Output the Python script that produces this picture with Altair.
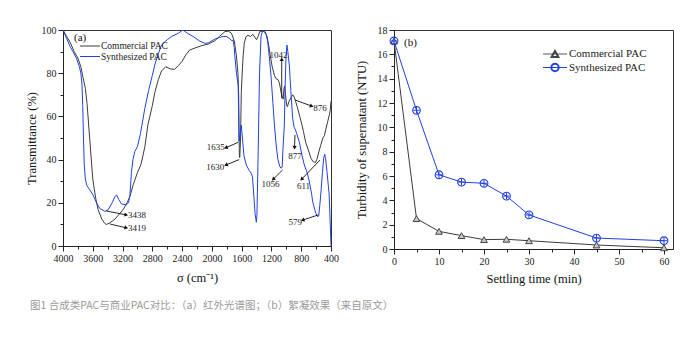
import math
import altair as alt
import pandas as pd

# ---------------- (a) FTIR spectra ----------------
com_sigma = [4000, 3950, 3900, 3850, 3800, 3760, 3731, 3700, 3677, 3640, 3600, 3560, 3530, 3480, 3440, 3419,
             3380, 3340, 3300, 3250, 3190, 3140, 3100, 3060, 3030, 3000, 2950, 2900, 2860, 2800, 2767, 2720,
             2677, 2620, 2560, 2500, 2450, 2400, 2350, 2300, 2200, 2140, 2050, 1960, 1900, 1826, 1780, 1737,
             1700, 1670, 1650, 1640, 1636, 1632, 1630, 1625, 1615, 1605, 1590, 1580, 1565, 1540, 1515, 1480,
             1450, 1420, 1400, 1380, 1358, 1320, 1290, 1260, 1240, 1220, 1190, 1160, 1140, 1110, 1090, 1070,
             1055, 1042, 1035, 1025, 1010, 995, 985, 965, 940, 915, 895, 876, 850, 820, 800, 770, 740, 700,
             669, 640, 624, 611, 590, 560, 535, 510, 490, 470, 445, 420, 410, 400]
com_T = [100, 97, 94, 90, 87, 83, 78, 73, 66, 49, 31, 22, 17, 12.5, 10.5, 10,
         10.5, 11.5, 12.5, 14.5, 17, 20, 23, 28, 31, 34, 38, 46, 56, 65, 71, 77,
         81, 83, 82, 81.8, 83.5, 85.5, 88.5, 90.7, 92, 92.7, 93.5, 95, 97, 99.2, 99.5, 98.5,
         95, 88, 80, 70, 55, 45, 41, 41, 50, 71, 82, 88, 94, 97, 97.5, 97,
         98, 96.5, 95.5, 97, 99.2, 99.5, 99, 97, 93.5, 89, 83, 79, 77.5, 77, 75, 71,
         69, 68, 72, 74, 70, 65, 64.5, 67, 68.5, 70, 69, 67, 64, 60, 57.5, 53, 48, 44,
         40.6, 39, 39, 38.5, 40, 44, 47, 50, 51, 54, 57.5, 61, 63, 67]

syn_sigma = [4000, 3950, 3900, 3866, 3820, 3780, 3760, 3745, 3735, 3725, 3715, 3700, 3680, 3640, 3596, 3550,
             3507, 3460, 3438, 3395, 3340, 3300, 3280, 3250, 3215, 3150, 3120, 3100, 3081, 3060, 3036, 3000,
             2960, 2901, 2850, 2800, 2767, 2720, 2677, 2600, 2543, 2450, 2400, 2386, 2330, 2252, 2170, 2095,
             2050, 2000, 1960, 1900, 1850, 1804, 1760, 1730, 1715, 1700, 1692, 1670, 1647, 1640, 1636, 1635,
             1625, 1605, 1590, 1570, 1538, 1500, 1470, 1455, 1440, 1420, 1403, 1395, 1380, 1360, 1340, 1320,
             1290, 1270, 1250, 1230, 1206, 1180, 1160, 1140, 1116, 1090, 1072, 1056, 1045, 1027, 1015, 1005,
             992, 980, 960, 940, 915, 895, 877, 860, 825, 790, 758, 720, 691, 660, 646, 620, 601, 579, 565,
             550, 535, 515, 499, 485, 475, 465, 454, 436, 425, 415, 405, 400]
syn_T = [100, 96, 92, 90, 87, 83, 80, 75, 65, 50, 38, 31, 28, 26, 23.6, 20,
         17.4, 16.5, 16, 16.7, 20, 23, 23.6, 21.5, 19.5, 19, 20, 24, 34, 40, 43.7, 46,
         52, 63.7, 72, 79, 83.8, 89, 93, 95.5, 97, 98.5, 99.8, 100, 98.5, 97, 95, 93.8,
         94, 95, 95.8, 96.5, 97, 97, 96, 95, 95.4, 92, 88, 80, 74.5, 60, 50, 48.5,
         51, 56, 50, 42, 37.5, 35, 33.6, 32, 25, 15, 11, 14, 40, 80, 97, 99.5,
         99.5, 98, 94.6, 88, 79, 66, 56, 48, 40.6, 37, 36, 36.5, 45, 56, 75, 87,
         93, 90, 83.8, 72, 59, 55, 53.7, 52, 48, 42, 37.5, 34, 29.8, 24, 20.5, 17, 15, 13.5, 14,
         19, 25, 34, 40.6, 42.5, 41, 38, 34.4, 28, 24, 15, 5, 0]

# peak annotations: label, text position, arrow start, arrow end
ann_label = ["3438", "3419", "1635", "1630", "1056", "1042", "876", "877", "611", "579"]
ann_tx = [3126, 3126, 1826, 1835, 1212, 1105, 640, 884, 770, 790]
ann_ty = [14.4, 8.2, 46, 36.7, 28.5, 88.5, 63.7, 41.7, 28, 11.2]
ann_align = ["left", "left", "right", "right", "center", "center", "left", "center", "center", "right"]
ann_x1 = [3417, 3372, 1646, 1633, 1050, 1062, 884, 884, 548, 570]
ann_y1 = [16.2, 10.2, 48, 40, 35.2, 68.4, 67.6, 51.4, 39.8, 14.4]
ann_x2 = [3150, 3150, 1812, 1812, 1176, 1062, 660, 890, 795, 781]
ann_y2 = [14.4, 8.4, 45.5, 37.5, 30.9, 86.5, 64.8, 45.5, 30.9, 12]

# ---------------- (b) turbidity ----------------
time_min = [0, 5, 10, 15, 20, 25, 30, 45, 60]
com_turb = [17.1, 2.5, 1.45, 1.1, 0.77, 0.8, 0.68, 0.33, 0.1]
syn_turb = [17.1, 11.4, 6.1, 5.5, 5.4, 4.35, 2.8, 0.9, 0.68]

series_names = ["Commercial PAC", "Synthesized PAC"]
caption = "图1  合成类PAC与商业PAC对比：（a）红外光谱图；（b）絮凝效果（来自原文）"

# ---------------- styling ----------------
SERIF = "Liberation Serif"
COM_COL = "#3c3c3c"
SYN_COL = "#2440e0"
LW, LH = 268, 216
RW, RH = 279, 219
one = pd.DataFrame({"k": [0]})
AX = dict(labelFont=SERIF, labelFontSize=10, labelColor="#222", labelPadding=2,
          titleFont=SERIF, titleFontSize=12.5, titleFontWeight="normal", titleColor="#111",
          tickColor="#222", domainColor="#222", grid=False, format="d", labelOverlap=False, labelFlush=False)

ir = pd.concat([
    pd.DataFrame({"sigma": com_sigma, "T": com_T, "series": series_names[0]}),
    pd.DataFrame({"sigma": syn_sigma, "T": syn_T, "series": series_names[1]}),
])

# arrow head angles (screen orientation)
ang = []
for a, b, c, d in zip(ann_x1, ann_y1, ann_x2, ann_y2):
    dx = -(c - a) / 3600 * LW
    dy = -(d - b) / 100 * LH
    ang.append(math.degrees(math.atan2(dx, -dy)) % 360)
ann = pd.DataFrame({"label": ann_label, "tx": ann_tx, "ty": ann_ty, "align": ann_align,
                    "x1": ann_x1, "y1": ann_y1, "x2": ann_x2, "y2": ann_y2, "ang": ang})

xa = alt.Axis(values=list(range(400, 4001, 200)),
              labelExpr="datum.value % 400 === 0 ? datum.label : ''",
              tickSize={"condition": {"test": "datum.value % 400 === 0", "value": 5}, "value": 3},
              title="σ (cm⁻¹)", titlePadding=8, **AX)
ya = alt.Axis(values=list(range(0, 101, 10)),
              labelExpr="datum.value % 20 === 0 ? datum.label : ''",
              tickSize={"condition": {"test": "datum.value % 20 === 0", "value": 5}, "value": 3},
              title="Transmittance (%)", titlePadding=3, **AX)
xs = alt.Scale(domain=[4000, 400], nice=False, zero=False)
ys = alt.Scale(domain=[0, 100], nice=False)

lines_a = alt.Chart(ir).mark_line(strokeWidth=1, clip=True).encode(
    x=alt.X("sigma:Q", scale=xs, axis=xa),
    y=alt.Y("T:Q", scale=ys, axis=ya),
    color=alt.Color("series:N", scale=alt.Scale(domain=series_names, range=[COM_COL, SYN_COL]), legend=None),
    order=alt.Order("sigma:Q", sort="descending"),
)
arrows = alt.Chart(ann).mark_rule(color="#111", strokeWidth=0.9).encode(
    x=alt.X("x1:Q", scale=xs, axis=xa), y=alt.Y("y1:Q", scale=ys, axis=ya), x2="x2:Q", y2="y2:Q")
heads = alt.Chart(ann).mark_point(shape="triangle-up", filled=True, color="#111", size=18, opacity=1).encode(
    x=alt.X("x2:Q", scale=xs, axis=xa), y=alt.Y("y2:Q", scale=ys, axis=ya), angle=alt.Angle("ang:Q", scale=None))
ann_layers = []
for al in ["left", "center", "right"]:
    ann_layers.append(
        alt.Chart(ann).transform_filter(alt.datum.align == al).mark_text(
            font=SERIF, fontSize=9, color="#222", align=al, baseline="middle").encode(
            x=alt.X("tx:Q", scale=xs, axis=xa), y=alt.Y("ty:Q", scale=ys, axis=ya), text="label:N"))

leg_a = [
    alt.Chart(one).mark_text(text="(a)", font=SERIF, fontSize=11, align="left", baseline="middle", color="#111").encode(
        x=alt.value(11), y=alt.value(8)),
    alt.Chart(one).mark_rule(color=COM_COL, strokeWidth=1).encode(x=alt.value(17), x2=alt.value(37), y=alt.value(16)),
    alt.Chart(one).mark_rule(color=SYN_COL, strokeWidth=1).encode(x=alt.value(17), x2=alt.value(37), y=alt.value(26.5)),
    alt.Chart(one).mark_text(text=series_names[0], font=SERIF, fontSize=9.5, align="left", baseline="middle", color="#222").encode(
        x=alt.value(38), y=alt.value(16)),
    alt.Chart(one).mark_text(text=series_names[1], font=SERIF, fontSize=9.5, align="left", baseline="middle", color="#222").encode(
        x=alt.value(38), y=alt.value(26.5)),
    alt.Chart(one).mark_text(text=caption, font="Noto Sans CJK SC", fontSize=10.5, align="left", baseline="middle",
                             color="#9a9a9a").encode(x=alt.value(-33), y=alt.value(275.5)),
]

left = alt.layer(lines_a, arrows, heads, *ann_layers, *leg_a).properties(width=LW, height=LH)

# ---------------- right panel ----------------
tb = pd.concat([
    pd.DataFrame({"t": time_min, "v": com_turb, "series": series_names[0]}),
    pd.DataFrame({"t": time_min, "v": syn_turb, "series": series_names[1]}),
])
bxa = alt.Axis(values=list(range(0, 61, 5)),
               labelExpr="datum.value % 10 === 0 ? datum.label : ''",
               tickSize={"condition": {"test": "datum.value % 10 === 0", "value": 5}, "value": 3},
               title="Settling time (min)", titlePadding=6, **AX)
bya = alt.Axis(values=list(range(0, 19)),
               labelExpr="datum.value % 2 === 0 ? datum.label : ''",
               tickSize={"condition": {"test": "datum.value % 2 === 0", "value": 5}, "value": 3},
               title="Turbidity of supernatant (NTU)", titlePadding=9, **AX)
bxs = alt.Scale(domain=[0, 62], nice=False)
bys = alt.Scale(domain=[0, 18], nice=False)
bx = alt.X("t:Q", scale=bxs, axis=bxa)
by = alt.Y("v:Q", scale=bys, axis=bya)
bcol = alt.Color("series:N", scale=alt.Scale(domain=series_names, range=["#555555", SYN_COL]), legend=None)

lines_b = alt.Chart(tb).mark_line(strokeWidth=1).encode(x=bx, y=by, color=bcol)
tri = alt.Chart(tb).transform_filter(alt.datum.series == series_names[0]).mark_point(
    shape="triangle-up", filled=True, fill="#c8c8c8", stroke="#444", strokeWidth=1, size=45, opacity=1).encode(x=bx, y=by)
circ = alt.Chart(tb).transform_filter(alt.datum.series == series_names[1]).mark_point(
    shape="circle", filled=False, color=SYN_COL, strokeWidth=1.1, size=60, opacity=1).encode(x=bx, y=by)
plus = alt.Chart(tb).transform_filter(alt.datum.series == series_names[1]).mark_point(
    shape="M-1,0L1,0M0,-1L0,1", filled=False, color=SYN_COL, strokeWidth=1, size=40, opacity=1).encode(x=bx, y=by)

leg_b = [
    alt.Chart(one).mark_text(text="(b)", font=SERIF, fontSize=11, align="left", baseline="middle", color="#111").encode(
        x=alt.value(10), y=alt.value(12.5)),
    alt.Chart(one).mark_rule(color="#555555", strokeWidth=1).encode(x=alt.value(149), x2=alt.value(173), y=alt.value(24)),
    alt.Chart(one).mark_point(shape="triangle-up", filled=False, color="#444", size=45, opacity=1).encode(
        x=alt.value(161), y=alt.value(24)),
    alt.Chart(one).mark_rule(color=SYN_COL, strokeWidth=1).encode(x=alt.value(149), x2=alt.value(173), y=alt.value(37.5)),
    alt.Chart(one).mark_point(shape="circle", filled=False, color=SYN_COL, size=55, opacity=1).encode(
        x=alt.value(161), y=alt.value(37.5)),
    alt.Chart(one).mark_text(text=series_names[0], font=SERIF, fontSize=11, align="left", baseline="middle", color="#222").encode(
        x=alt.value(175), y=alt.value(24)),
    alt.Chart(one).mark_text(text=series_names[1], font=SERIF, fontSize=11, align="left", baseline="middle", color="#222").encode(
        x=alt.value(175), y=alt.value(37.5)),
]

right = alt.layer(lines_b, tri, circ, plus, *leg_b).properties(width=RW, height=RH)

chart = alt.hconcat(left, right, spacing=63, bounds="flush").properties(
    autosize=alt.AutoSizeParams(type="none"),
    padding={"left": 63, "top": 30, "right": 629, "bottom": 307},
).configure(
    font=SERIF,
).configure_view(stroke="#333", strokeWidth=1).configure_axis(
    labelFont=SERIF, titleFont=SERIF, grid=False,
)

chart.save("out.html", embed_options={"renderer": "svg", "actions": False})
